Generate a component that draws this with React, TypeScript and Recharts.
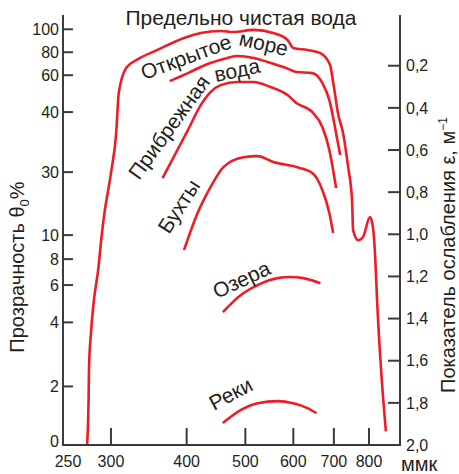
import { LineChart, Line, XAxis, YAxis } from 'recharts';

const AXIS = '#3b3b3b';
const RED = '#ee1c25';
const TEXT = '#231f20';
const FONT = '"Liberation Sans", Arial, Helvetica, sans-serif';

// wavelength, ммк (log axis)
const wlTicks = [250, 300, 400, 500, 600, 700, 800];
// attenuation coefficient ε, м⁻¹ (right axis)
const epsTicks = [0.2, 0.4, 0.6, 0.8, 1.0, 1.2, 1.4, 1.6, 1.8, 2.0];
// transparency θ0 % (left axis), placed at the matching ε
const thetaLabels = [100, 80, 60, 40, 30, 10, 8, 6, 4, 2, 0];
const thetaTickEps = [0.027, 0.136, 0.245, 0.42, 0.705, 1.004, 1.118, 1.241, 1.418, 1.722, 2.0];

const pureWaterWl = [274, 275.5, 276, 278, 281, 286, 289, 292, 300, 306, 309, 318, 332, 358, 396, 422, 455, 478, 516, 556, 587, 600, 633, 665, 690, 698, 712, 725, 739, 750, 753, 768, 782, 803, 812, 819, 825, 837, 853];
const pureWaterEps = [2.0, 1.79, 1.63, 1.47, 1.32, 1.16, 1.03, 0.92, 0.71, 0.52, 0.33, 0.21, 0.17, 0.125, 0.068, 0.045, 0.035, 0.04, 0.03, 0.045, 0.078, 0.116, 0.125, 0.14, 0.197, 0.277, 0.434, 0.52, 0.681, 0.838, 0.98, 1.028, 1.013, 0.918, 0.966, 1.108, 1.317, 1.631, 1.935];

const openSeaWl = [375, 402, 433, 467, 485, 516, 544, 584, 607, 645, 670, 688, 706, 717];
const openSeaEps = [0.273, 0.235, 0.192, 0.163, 0.154, 0.163, 0.182, 0.211, 0.23, 0.235, 0.282, 0.363, 0.52, 0.624];

const coastalWl = [365, 402, 422, 438, 455, 485, 516, 550, 587, 607, 645, 670, 688, 706];
const coastalEps = [0.733, 0.505, 0.387, 0.325, 0.292, 0.277, 0.277, 0.301, 0.339, 0.377, 0.42, 0.491, 0.6, 0.781];

const baysWl = [396, 417, 438, 460, 497, 524, 556, 607, 645, 670, 688, 698];
const baysEps = [1.075, 0.899, 0.776, 0.681, 0.634, 0.629, 0.657, 0.681, 0.709, 0.79, 0.899, 0.994];

const lakesWl = [459, 491, 524, 565, 593, 623, 665];
const lakesEps = [1.369, 1.289, 1.241, 1.208, 1.203, 1.208, 1.232];

const riversWl = [459, 491, 524, 565, 600, 633, 655];
const riversEps = [1.896, 1.835, 1.802, 1.792, 1.802, 1.825, 1.849];

const zip = (wl: number[], eps: number[]) => wl.map((w, i) => ({ wl: w, eps: eps[i] }));

// both y axes share one domain, so each curve may hang on either of them
const series = [
  { key: 'pure', axis: 'theta', data: zip(pureWaterWl, pureWaterEps) },
  { key: 'sea', axis: 'theta', data: zip(openSeaWl, openSeaEps) },
  { key: 'coast', axis: 'theta', data: zip(coastalWl, coastalEps) },
  { key: 'bays', axis: 'eps', data: zip(baysWl, baysEps) },
  { key: 'lakes', axis: 'eps', data: zip(lakesWl, lakesEps) },
  { key: 'rivers', axis: 'eps', data: zip(riversWl, riversEps) },
];

function BottomTick({ x, y, payload }: any) {
  const v = payload.value;
  return (
    <g>
      {v !== 250 && <line x1={x} y1={y} x2={x} y2={y - 17} stroke={AXIS} strokeWidth={2} />}
      <text x={v === 250 ? x + 5 : x} y={y + 22} textAnchor="middle" fontSize={16} fill={TEXT} fontFamily={FONT}>
        {v}
      </text>
    </g>
  );
}

function LeftTick({ x, y, payload }: any) {
  const label = thetaLabels[thetaTickEps.indexOf(payload.value)];
  return (
    <g>
      {label !== 0 && <line x1={x} y1={y} x2={x + 10} y2={y} stroke={AXIS} strokeWidth={2} />}
      <text x={x - 4} y={label === 0 ? y - 4 : y} dy="0.36em" textAnchor="end" fontSize={16} fill={TEXT} fontFamily={FONT}>
        {label}
      </text>
    </g>
  );
}

function RightTick({ x, y, payload }: any) {
  const v = payload.value as number;
  return (
    <g>
      {v !== 2.0 && <line x1={x} y1={y} x2={x - 12} y2={y} stroke={AXIS} strokeWidth={2} />}
      <text x={x + 6} y={y} dy="0.36em" textAnchor="start" fontSize={16} fill={TEXT} fontFamily={FONT}>
        {v.toFixed(1).replace('.', ',')}
      </text>
    </g>
  );
}

export default function App() {
  const lbl = { fontSize: 21, fill: TEXT, fontFamily: FONT };
  return (
    <div style={{ position: 'absolute', left: 0, top: 0, width: 459, height: 474, background: '#fff' }}>
      <LineChart width={459} height={474} margin={{ top: 16, right: 58, bottom: 28, left: 62 }}>
        <XAxis
          dataKey="wl"
          type="number"
          scale="log"
          domain={[250, 900]}
          ticks={wlTicks}
          interval={0}
          height={1}
          tickSize={0}
          tickMargin={0}
          tickLine={false}
          tick={<BottomTick />}
          axisLine={{ stroke: AXIS, strokeWidth: 2, strokeLinecap: 'square' }}
        />
        <YAxis
          yAxisId="theta"
          orientation="left"
          type="number"
          domain={[-0.036, 2.0]}
          reversed
          ticks={thetaTickEps}
          interval={0}
          width={1}
          tickSize={0}
          tickMargin={0}
          tickLine={false}
          tick={<LeftTick />}
          axisLine={{ stroke: AXIS, strokeWidth: 2, strokeLinecap: 'square' }}
        />
        <YAxis
          yAxisId="eps"
          orientation="right"
          type="number"
          domain={[-0.036, 2.0]}
          reversed
          ticks={epsTicks}
          interval={0}
          width={1}
          tickSize={0}
          tickMargin={0}
          tickLine={false}
          tick={<RightTick />}
          axisLine={{ stroke: AXIS, strokeWidth: 2, strokeLinecap: 'square' }}
        />
        {series.map((s) => (
          <Line
            key={s.key}
            yAxisId={s.axis}
            data={s.data}
            dataKey="eps"
            type="monotone"
            stroke={RED}
            strokeWidth={2.6}
            dot={false}
            activeDot={false}
            isAnimationActive={false}
          />
        ))}
      </LineChart>
      <svg width={459} height={474} style={{ position: 'absolute', left: 0, top: 0, pointerEvents: 'none' }}>
        <text x={241} y={25} textAnchor="middle" {...lbl}>Предельно чистая вода</text>
        <text transform="translate(144,80) rotate(-20)" {...lbl}>Открытое</text>
        <text transform="translate(238,45) rotate(13)" {...lbl}>море</text>
        <text transform="translate(139,181) rotate(-54)" {...lbl}>Прибрежная</text>
        <text transform="translate(216,82) rotate(-12)" {...lbl}>вода</text>
        <text transform="translate(169,235) rotate(-57)" {...lbl}>Бухты</text>
        <text transform="translate(217,299) rotate(-25)" {...lbl}>Озера</text>
        <text transform="translate(214,411) rotate(-28)" {...lbl}>Реки</text>
        <text transform="translate(24,267) rotate(-90)" textAnchor="middle" {...lbl} fontSize={20}>
          Прозрачность θ<tspan dy={5} fontSize={13}>0</tspan>
          <tspan dy={-5}>%</tspan>
        </text>
        <text transform="translate(455,255) rotate(-90)" textAnchor="middle" {...lbl} fontSize={20}>
          Показатель ослабления ε, м<tspan dy={-8} fontSize={12}>−1</tspan>
        </text>
        <text x={401} y={471} {...lbl} fontSize={20}>ммк</text>
      </svg>
    </div>
  );
}
